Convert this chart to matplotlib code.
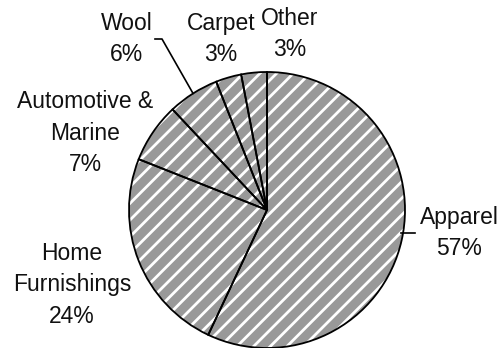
import numpy as np
import matplotlib.pyplot as plt

plt.rcParams['font.family'] = ['Liberation Sans', 'DejaVu Sans']
plt.rcParams['hatch.color'] = 'white'
plt.rcParams['hatch.linewidth'] = 2.0

# Market shares by end use
segments = ['Apparel', 'Home\nFurnishings', 'Automotive &\nMarine', 'Wool', 'Carpet', 'Other']
shares = [57, 24, 7, 6, 3, 3]

# label centres (x, y) in pixel space, y measured from the top
label_pos = [(459, 233), (72, 285), (85, 133), (127, 39), (221, 39), (290, 34)]

W, H = 503, 348
fig = plt.figure(figsize=(W / 100, H / 100), dpi=100)
ax = fig.add_axes([0, 0, 1, 1])

cx, cy, r = 267, H - 210, 138
wedges, _ = ax.pie(shares, startangle=90, counterclock=False, center=(cx, cy), radius=r,
                   colors=['#999999'] * len(shares), hatch='//',
                   wedgeprops=dict(edgecolor='white', linewidth=0))

# black outlines drawn over the hatching
ax.pie(shares, startangle=90, counterclock=False, center=(cx, cy), radius=r,
       wedgeprops=dict(fill=False, edgecolor='black', linewidth=1.3))

for w, name, val, (px, py) in zip(wedges, segments, shares, label_pos):
    ax.text(px, H - py, f'{name}\n{val}%', ha='center', va='center',
            fontsize=16.5, linespacing=1.45, color='#111111')

# leader line for Apparel: from the rim out to the label
ly = H - 233
lx = cx + np.sqrt(r ** 2 - (ly - cy) ** 2)
ax.plot([lx - 2, 415], [ly, ly], color='black', lw=1.2)

# leader line for Wool: from the middle of its wedge
mid = np.deg2rad((wedges[3].theta1 + wedges[3].theta2) / 2)
x0, y0 = cx + r * np.cos(mid), cy + r * np.sin(mid)
ax.plot([x0, 162, 155], [y0, H - 39, H - 39], color='black', lw=1.2)

ax.set_xlim(0, W)
ax.set_ylim(0, H)
ax.set_aspect('equal')
ax.axis('off')
fig.savefig('out.png', dpi=100)
